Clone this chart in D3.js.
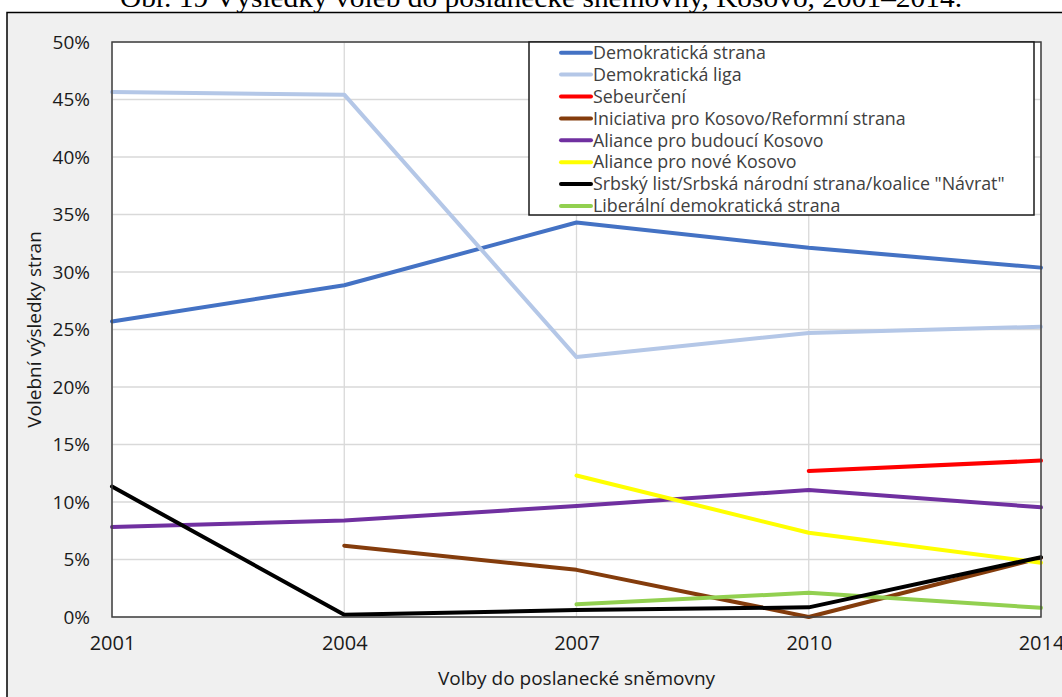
<!DOCTYPE html>
<html><head><meta charset="utf-8">
<script src="https://cdn.jsdelivr.net/npm/d3@7"></script>
<style>
html,body{margin:0;padding:0;background:#fff;}
svg{display:block;}
</style></head>
<body>
<svg id="chart" width="1062" height="697"></svg>
<script>
const title = "Obr. 19 Výsledky voleb do poslanecké sněmovny, Kosovo, 2001–2014.";
const years = ["2001", "2004", "2007", "2010", "2014"];
const yTicks = [0, 0.05, 0.10, 0.15, 0.20, 0.25, 0.30, 0.35, 0.40, 0.45, 0.50];
const xTitle = "Volby do poslanecké sněmovny";
const yTitle = "Volební výsledky stran";

const seriesNames = [
  "Demokratická strana",
  "Demokratická liga",
  "Sebeurčení",
  "Iniciativa pro Kosovo/Reformní strana",
  "Aliance pro budoucí Kosovo",
  "Aliance pro nové Kosovo",
  "Srbský list/Srbská národní strana/koalice \"Návrat\"",
  "Liberální demokratická strana"
];
const seriesColors = ["#4472c4", "#b4c7e7", "#ff0000", "#843c0c", "#7030a0", "#ffff00", "#000000", "#92d050"];

const demokratickaStrana = [0.257, 0.2885, 0.343, 0.321, 0.3038];
const demokratickaLiga   = [0.4565, 0.4542, 0.226, 0.247, 0.2524];
const sebeurceni         = [null, null, null, 0.127, 0.136];
const iniciativa         = [null, 0.062, 0.041, 0.000, 0.0515];
const aab                = [0.0783, 0.0839, 0.0965, 0.1104, 0.0954];
const akr                = [null, null, 0.123, 0.0733, 0.0472];
const srbskyList         = [0.1134, 0.002, 0.006, 0.0084, 0.052];
const liberalni          = [null, null, 0.011, 0.021, 0.008];

const seriesValues = [demokratickaStrana, demokratickaLiga, sebeurceni, iniciativa, aab, akr, srbskyList, liberalni];

const svg = d3.select("#chart");
const W = 1062, H = 697;
const plot = {left: 112, right: 1041, top: 42, bottom: 617};
const font = "'Open Sans', 'Noto Sans', sans-serif";
const textCol = "#1a1a1a";

// outer frame
svg.append("rect").attr("x", 7).attr("y", 12.5).attr("width", W + 20).attr("height", H + 20)
  .attr("fill", "#f0f0f0").attr("stroke", "#000").attr("stroke-width", 1.5);

// title (clipped at the top of the picture)
svg.append("text").attr("x", 541).attr("y", 7).attr("text-anchor", "middle")
  .attr("font-family", "'Liberation Serif', 'Times New Roman', serif").attr("font-size", 28)
  .attr("fill", "#000")
  .attr("textLength", 842).attr("lengthAdjust", "spacingAndGlyphs")
  .text(title);

const x = d3.scalePoint().domain(years).range([plot.left, plot.right]);
const y = d3.scaleLinear().domain([0, 0.5]).range([plot.bottom, plot.top]);

// plot area
svg.append("rect").attr("x", plot.left).attr("y", plot.top)
  .attr("width", plot.right - plot.left).attr("height", plot.bottom - plot.top)
  .attr("fill", "#fff");

// grid
const grid = svg.append("g");
grid.selectAll("line.h").data(yTicks).join("line")
  .attr("x1", plot.left).attr("x2", plot.right)
  .attr("y1", d => y(d)).attr("y2", d => y(d))
  .attr("stroke", "#d9d9d9").attr("stroke-width", 1.3);
grid.selectAll("line.v").data(years).join("line")
  .attr("x1", d => x(d)).attr("x2", d => x(d))
  .attr("y1", plot.top).attr("y2", plot.bottom)
  .attr("stroke", "#d9d9d9").attr("stroke-width", 1.3);

// axes (labels only)
const yAxis = d3.axisLeft(y).tickValues(yTicks).tickFormat(d3.format(".0%")).tickSize(0).tickPadding(22);
const gy = svg.append("g").attr("transform", `translate(${plot.left},0)`).call(yAxis);
gy.select(".domain").remove();
gy.selectAll("text").attr("font-family", font).attr("font-size", 19).attr("fill", textCol);

const xAxis = d3.axisBottom(x).tickSize(0).tickPadding(19);
const gx = svg.append("g").attr("transform", `translate(0,${plot.bottom})`).call(xAxis);
gx.select(".domain").remove();
gx.selectAll("text").attr("font-family", font).attr("font-size", 20).attr("fill", textCol);

// axis titles
svg.append("text").attr("x", (plot.left + plot.right) / 2).attr("y", 685)
  .attr("text-anchor", "middle").attr("font-family", font).attr("font-size", 19).attr("fill", textCol)
  .text(xTitle);
svg.append("text").attr("transform", `translate(41,${(plot.top + plot.bottom) / 2}) rotate(-90)`)
  .attr("text-anchor", "middle").attr("font-family", font).attr("font-size", 19).attr("fill", textCol)
  .text(yTitle);

// lines
const line = d3.line().defined(d => d.v !== null).x(d => x(d.year)).y(d => y(d.v));
const drawOrder = [0, 1, 2, 3, 4, 5, 7, 6];
const gLines = svg.append("g");
drawOrder.forEach(i => {
  const data = years.map((yr, j) => ({year: yr, v: seriesValues[i][j]}));
  gLines.append("path").datum(data).attr("d", line)
    .attr("fill", "none").attr("stroke", seriesColors[i]).attr("stroke-width", 4)
    .attr("stroke-linejoin", "round").attr("stroke-linecap", "round");
});

// plot border
svg.append("rect").attr("x", plot.left).attr("y", plot.top)
  .attr("width", plot.right - plot.left).attr("height", plot.bottom - plot.top)
  .attr("fill", "none").attr("stroke", "#404040").attr("stroke-width", 1.5);

// legend
const leg = {x: 529, y: 42, w: 505, h: 173, row0: 52.7, step: 21.9};
const gLeg = svg.append("g");
gLeg.append("rect").attr("x", leg.x).attr("y", leg.y).attr("width", leg.w).attr("height", leg.h)
  .attr("fill", "#fff").attr("stroke", "#1a1a1a").attr("stroke-width", 1.5);
const items = gLeg.selectAll("g.item").data(seriesNames).join("g")
  .attr("transform", (d, i) => `translate(0,${leg.row0 + i * leg.step})`);
items.append("line").attr("x1", 561).attr("x2", 591).attr("y1", 0).attr("y2", 0)
  .attr("stroke", (d, i) => seriesColors[i]).attr("stroke-width", 4).attr("stroke-linecap", "round");
const legTexts = items.append("text").attr("x", 593).attr("y", 0).attr("dy", "0.35em")
  .attr("font-family", font).attr("font-size", 16).attr("fill", "#404040")
  .text(d => d);
// fit legend font so the longest entry spans ~412px like the reference
let maxW = 0;
legTexts.each(function() { maxW = Math.max(maxW, this.getComputedTextLength()); });
const fs = 16 * 412 / maxW;
legTexts.attr("font-size", fs);
</script>
</body></html>
